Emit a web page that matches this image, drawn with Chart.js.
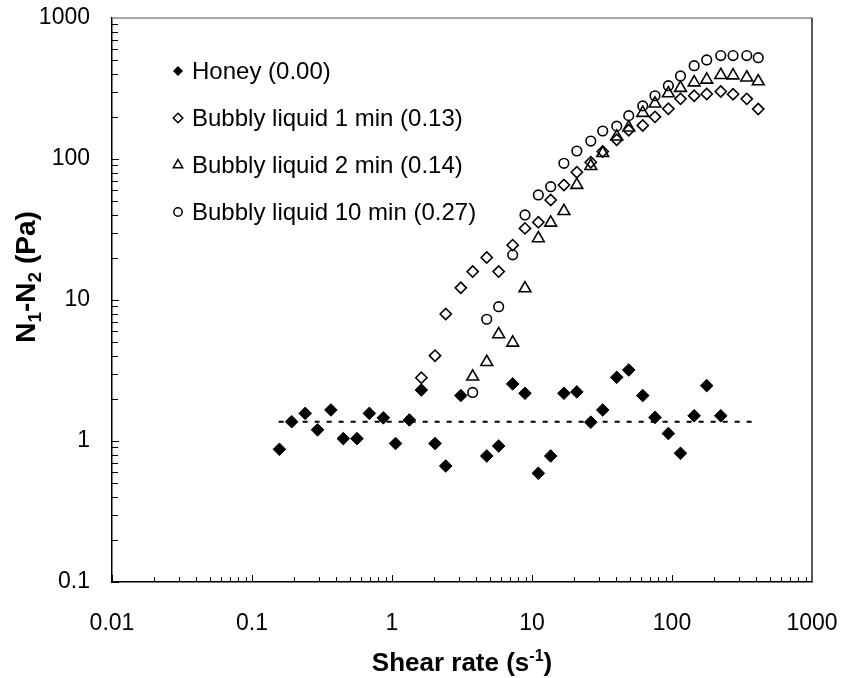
<!DOCTYPE html>
<html><head><meta charset="utf-8">
<script src="https://cdn.jsdelivr.net/npm/chart.js@4.4.0/dist/chart.umd.min.js"></script>
<style>html,body{margin:0;padding:0;background:#fff;}#wrap{width:843px;height:678px;}</style>
</head><body><div id="wrap"><canvas id="c" width="843" height="678" style="width:843px;height:678px"></canvas></div>
<script>
// ---- data ----
const shearRate = [0.157,0.192,0.240,0.294,0.366,0.449,0.562,0.689,0.867,1.06,1.33,1.62,2.03,2.42,3.10,3.77,4.75,5.78,7.28,8.91,11.1,13.6,16.9,20.9,26.3,32.0,40.3,49.1,61.8,75.6,94.2,115,144,177,223,273,342,413];
const honey = [0.873,1.37,1.57,1.20,1.66,1.04,1.04,1.57,1.46,0.96,1.41,2.30,0.96,0.665,2.10,null,0.783,0.922,2.54,2.18,0.590,0.783,2.18,2.23,1.36,1.66,2.83,3.19,2.10,1.47,1.13,0.818,1.51,2.47,1.51,null,null,null];
const bubbly1min = [null,null,null,null,null,null,null,null,null,null,null,2.81,4.03,7.96,12.2,15.9,20.0,15.9,24.5,32.2,35.6,51.2,65.4,80.5,94.8,113,137,160,173,199,227,267,281,289,301,288,267,226];
const bubbly2min = [null,null,null,null,null,null,null,null,null,null,null,null,null,null,null,2.86,3.63,5.71,4.98,12.1,27.4,35.3,42.7,65.4,89.1,110,144,167,212,247,292,319,349,365,394,391,378,355];
const bubbly10min = [null,null,null,null,null,null,null,null,null,null,null,null,null,null,null,2.21,7.30,8.96,20.9,40.1,55.6,63.6,93.2,114,134,158,171,203,238,281,331,388,459,504,541,541,541,523];
const trendShear = [0.155, 375];
const trendValue = [1.37, 1.37];
const seriesLabels = ['Honey (0.00)','Bubbly liquid 1 min (0.13)','Bubbly liquid 2 min (0.14)','Bubbly liquid 10 min (0.27)'];
const xTickValues = [0.01,0.1,1,10,100,1000];
const xTickLabels = ['0.01','0.1','1','10','100','1000'];
const yTickValues = [0.1,1,10,100,1000];
const yTickLabels = ['0.1','1','10','100','1000'];

const FONT = '"Liberation Sans", Arial, sans-serif';
function pts(vals){ return shearRate.map((x,i)=>({x:x,y:vals[i]})).filter(p=>p.y!==null); }
const NONE = 'rgba(0,0,0,0)';
const styles = [
  {pointStyle:'rectRot', radius:6.3, bg:'#000', bw:1},
  {pointStyle:'rectRot', radius:5.6, bg:NONE, bw:1.6},
  {pointStyle:'triangle', radius:6.8, bg:NONE, bw:1.6},
  {pointStyle:'circle', radius:4.8, bg:NONE, bw:1.6}
];
const seriesData = [honey,bubbly1min,bubbly2min,bubbly10min];
const datasets = seriesData.map((d,i)=>({
  type:'scatter', label:seriesLabels[i], data:pts(d), showLine:false,
  pointStyle:styles[i].pointStyle, pointRadius:styles[i].radius,
  pointBackgroundColor:styles[i].bg, pointBorderColor:'#000', pointBorderWidth:styles[i].bw
}));
datasets.push({type:'line', label:'trend', data:trendShear.map((x,i)=>({x:x,y:trendValue[i]})),
  borderColor:'#000', borderWidth:2, borderDash:[5,7], pointRadius:0, fill:false});

function marker(ctx, style, x, y, r){
  ctx.beginPath();
  if(style==='rectRot'){ ctx.moveTo(x-r,y); ctx.lineTo(x,y-r); ctx.lineTo(x+r,y); ctx.lineTo(x,y+r); ctx.closePath(); }
  else if(style==='triangle'){ const s=Math.sin(Math.PI/3)*r; ctx.moveTo(x,y-r); ctx.lineTo(x+s,y+r/2); ctx.lineTo(x-s,y+r/2); ctx.closePath(); }
  else { ctx.arc(x,y,r,0,Math.PI*2); }
}

const deco = {
  id:'deco',
  afterDraw(chart){
    const ctx = chart.ctx, a = chart.chartArea, xs = chart.scales.x, ys = chart.scales.y;
    ctx.save();
    ctx.lineWidth = 1.5;
    ctx.strokeStyle = '#888';
    ctx.beginPath(); ctx.moveTo(a.left, a.top); ctx.lineTo(a.right, a.top); ctx.stroke();
    ctx.strokeStyle = '#222';
    ctx.beginPath(); ctx.moveTo(a.right, a.top); ctx.lineTo(a.right, a.bottom); ctx.stroke();
    ctx.strokeStyle = '#000'; ctx.lineWidth = 1;
    for(let d=0.01; d<1000*0.999; d*=10){
      for(let k=1;k<=9;k++){
        const px = Math.round(xs.getPixelForValue(k*d))+0.5;
        const len = k===1?7:5;
        ctx.beginPath(); ctx.moveTo(px, a.bottom); ctx.lineTo(px, a.bottom-len); ctx.stroke();
      }
    }
    for(let d=0.1; d<1000*0.999; d*=10){
      for(let k=1;k<=9;k++){
        const py = Math.round(ys.getPixelForValue(k*d))+0.5;
        const len = k===1?7:6;
        ctx.beginPath(); ctx.moveTo(a.left, py); ctx.lineTo(a.left+len, py); ctx.stroke();
      }
    }
    // legend
    const rows = [71,118,165,212];
    const lr = [5,4.8,5.4,4.2];
    ctx.font = '24px ' + FONT; ctx.fillStyle = '#000'; ctx.textBaseline='middle'; ctx.textAlign='left';
    rows.forEach((y,i)=>{
      ctx.lineWidth = 1.5; ctx.strokeStyle='#000';
      marker(ctx, styles[i].pointStyle, 178, y, lr[i]);
      if(i===0){ ctx.fillStyle='#000'; ctx.fill(); } else ctx.stroke();
      ctx.fillStyle='#000';
      ctx.fillText(seriesLabels[i], 192, y+1);
    });
    // x title
    const big = 'bold 26px ' + FONT, small = 'bold 16px ' + FONT;
    const xParts = [['Shear rate (s',big,0],['-1',small,-10],[')',big,0]];
    let w=0; xParts.forEach(p=>{ctx.font=p[1]; w+=ctx.measureText(p[0]).width;});
    let cx = (a.left+a.right)/2 - w/2; ctx.textBaseline='alphabetic';
    xParts.forEach(p=>{ctx.font=p[1]; ctx.fillText(p[0], cx, 671+p[2]); cx+=ctx.measureText(p[0]).width;});
    // y title
    const bigY = 'bold 28px ' + FONT, smallY = 'bold 19px ' + FONT;
    const yParts = [['N',bigY,0],['1',smallY,6],['-N',bigY,0],['2',smallY,6],[' (Pa)',bigY,0]];
    w=0; yParts.forEach(p=>{ctx.font=p[1]; w+=ctx.measureText(p[0]).width;});
    ctx.translate(35, 277); ctx.rotate(-Math.PI/2);
    cx = -w/2;
    yParts.forEach(p=>{ctx.font=p[1]; ctx.fillText(p[0], cx, p[2]); cx+=ctx.measureText(p[0]).width;});
    ctx.restore();
  }
};

const hiddenGrid = (len)=>({display:true, drawOnChartArea:false, drawTicks:true, tickLength:len, color:NONE, tickColor:NONE});

new Chart(document.getElementById('c'), {
  type:'scatter',
  data:{datasets:datasets},
  options:{
    responsive:false, animation:false, events:[],
    layout:{padding:{top:18,right:31,left:0,bottom:0}},
    plugins:{legend:{display:false}, tooltip:{enabled:false}},
    scales:{
      x:{type:'logarithmic', min:0.01, max:1000,
        afterBuildTicks(s){ s.ticks = xTickValues.map(v=>({value:v})); },
        afterFit(s){ s.height = 96; },
        ticks:{callback:(v,i)=>xTickLabels[i], font:{family:FONT,size:23}, color:'#000', padding:0, maxRotation:0, autoSkip:false},
        grid:hiddenGrid(28),
        border:{display:true, color:'#000', width:1.5}},
      y:{type:'logarithmic', min:0.1, max:1000,
        afterBuildTicks(s){ s.ticks = yTickValues.map(v=>({value:v})); },
        afterFit(s){ s.width = 112; },
        ticks:{callback:(v,i)=>yTickLabels[i], font:{family:FONT,size:23}, color:'#000', padding:0, autoSkip:false},
        grid:hiddenGrid(22),
        border:{display:true, color:'#000', width:1.5}}
    }
  },
  plugins:[deco]
});
</script></body></html>
